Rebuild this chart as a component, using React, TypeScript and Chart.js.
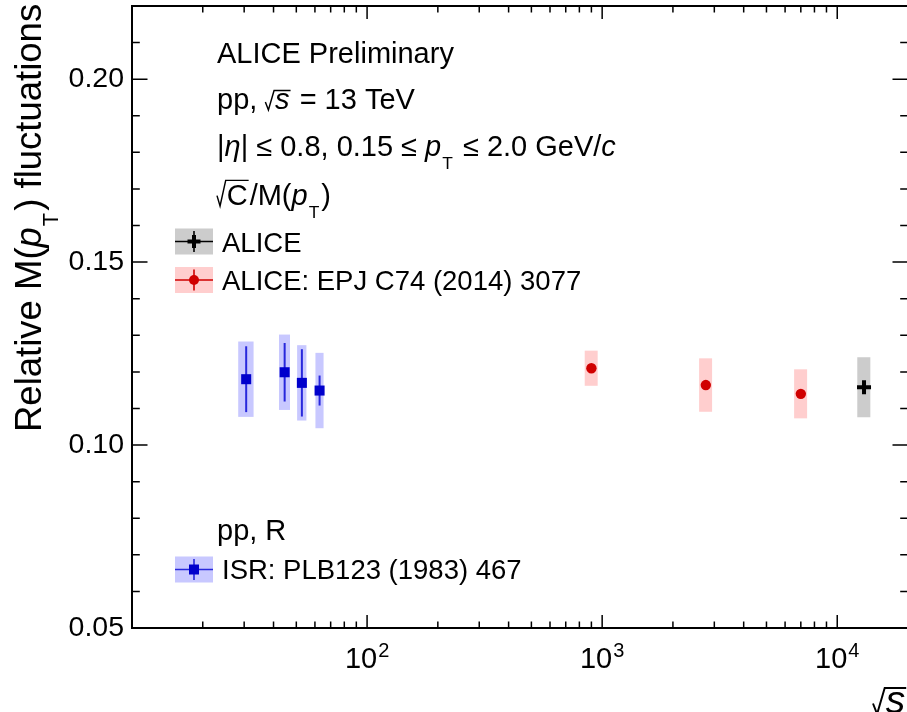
import React, { useEffect, useRef } from 'react';
import { Chart, registerables } from 'chart.js';
Chart.register(...registerables);

// ---- data ----
const isrEnergy = [30.6, 44.6, 52.8, 62.8];
const isrValue = [0.1180, 0.1199, 0.1170, 0.1149];
const isrStat = [0.0090, 0.0080, 0.0092, 0.0041];
const isrSys = [0.0103, 0.0103, 0.0103, 0.0103];
const isrXHalf = [2.3, 2.4, 2.4, 2.5];

const alice2014Energy = [900, 2760, 7000];
const alice2014Value = [0.1210, 0.1164, 0.1140];
const alice2014Stat = [0.0004, 0.0004, 0.0004];
const alice2014Sys = [0.0048, 0.0073, 0.0067];
const alice2014XHalf = [57, 175, 445];

const alice13Energy = [13000];
const alice13Value = [0.1158];
const alice13Stat = [0.0008];
const alice13Sys = [0.0082];
const alice13XHalf = [830];

const xMin = 10;
const xMax = 20000;
const yMin = 0.05;
const yMax = 0.22;
const xMajorTicks = [100, 1000, 10000];
const xMajorExp = ['2', '3', '4'];
const xMinorTicks = [20, 30, 40, 50, 60, 70, 80, 90, 200, 300, 400, 500, 600, 700, 800, 900, 2000, 3000, 4000, 5000, 6000, 7000, 8000, 9000];
const yMajorTicks = [0.05, 0.10, 0.15, 0.20];
const yMinorTicks = [0.06, 0.07, 0.08, 0.09, 0.11, 0.12, 0.13, 0.14, 0.16, 0.17, 0.18, 0.19, 0.21];

// ---- style ----
const FONT = '"Liberation Sans", Arial, Helvetica, sans-serif';
const CANVAS_W = 1000;
const CANVAS_H = 712;
const BLUE = 'rgb(0,0,204)';
const BLUE_LINE = 'rgb(40,40,220)';
const BLUE_BOX = 'rgb(200,200,255)';
const RED = 'rgb(208,0,0)';
const RED_BOX = 'rgb(255,206,206)';
const GRAY_BOX = 'rgb(204,204,204)';

type Run = { t: string; it?: boolean; sub?: boolean; rad?: 'low' | 'cap' };

function fontOf(size: number, it?: boolean) {
  return `${it ? 'italic ' : ''}${size}px ${FONT}`;
}

function drawRuns(ctx: CanvasRenderingContext2D, runs: Run[], x: number, y: number, fs: number) {
  let cx = x;
  ctx.textBaseline = 'alphabetic';
  ctx.textAlign = 'left';
  ctx.fillStyle = '#000';
  ctx.strokeStyle = '#000';
  for (const r of runs) {
    if (r.rad) {
      ctx.font = fontOf(fs, r.it);
      const w = ctx.measureText(r.t).width;
      const h = r.rad === 'cap' ? fs * 0.85 : fs * 0.64;
      const rw = fs * 0.3;
      ctx.beginPath();
      ctx.lineWidth = Math.max(1.3, fs * 0.05);
      ctx.moveTo(cx, y - h * 0.38);
      ctx.lineTo(cx + rw * 0.35, y + 1);
      ctx.lineTo(cx + rw, y - h);
      ctx.lineTo(cx + rw + w + 2, y - h);
      ctx.stroke();
      ctx.fillText(r.t, cx + rw + 1, y);
      cx += rw + w + 3;
    } else if (r.sub) {
      const s = fs * 0.6;
      ctx.font = fontOf(s, r.it);
      const w = ctx.measureText(r.t).width;
      ctx.fillText(r.t, cx + 1, y + fs * 0.46);
      cx += w + 3;
    } else {
      ctx.font = fontOf(fs, r.it);
      const w = ctx.measureText(r.t).width;
      ctx.fillText(r.t, cx, y);
      cx += w;
    }
  }
  return cx;
}

function drawSeriesErrors(
  ctx: CanvasRenderingContext2D, xs: any, ys: any,
  ex: number[], ey: number[], xh: number[], sys: number[], stat: number[],
  boxColor: string, lineColor: string, lineW: number
) {
  for (let i = 0; i < ex.length; i++) {
    const x0 = xs.getPixelForValue(ex[i] - xh[i]);
    const x1 = xs.getPixelForValue(ex[i] + xh[i]);
    const yt = ys.getPixelForValue(ey[i] + sys[i]);
    const yb = ys.getPixelForValue(ey[i] - sys[i]);
    ctx.fillStyle = boxColor;
    ctx.fillRect(x0, yt, x1 - x0, yb - yt);
  }
  for (let i = 0; i < ex.length; i++) {
    const xc = xs.getPixelForValue(ex[i]);
    const yt = ys.getPixelForValue(ey[i] + stat[i]);
    const yb = ys.getPixelForValue(ey[i] - stat[i]);
    ctx.strokeStyle = lineColor;
    ctx.lineWidth = lineW;
    ctx.beginPath();
    ctx.moveTo(xc, yt);
    ctx.lineTo(xc, yb);
    ctx.stroke();
  }
}

function legendEntry(ctx: CanvasRenderingContext2D, cy: number, box: string, line: string, kind: string) {
  const x0 = 175, x1 = 213, xc = 194;
  ctx.fillStyle = box;
  ctx.fillRect(x0, cy - 13, x1 - x0, 26);
  ctx.strokeStyle = line;
  ctx.lineWidth = 1.6;
  ctx.beginPath();
  ctx.moveTo(x0, cy);
  ctx.lineTo(x1, cy);
  ctx.moveTo(xc, cy - 10.5);
  ctx.lineTo(xc, cy + 10.5);
  ctx.stroke();
  if (kind === 'rect') {
    ctx.fillStyle = BLUE;
    ctx.fillRect(xc - 5, cy - 5, 10, 10);
  } else if (kind === 'circle') {
    ctx.fillStyle = RED;
    ctx.beginPath();
    ctx.arc(xc, cy, 5, 0, Math.PI * 2);
    ctx.fill();
  } else {
    ctx.strokeStyle = '#000';
    ctx.lineWidth = 4;
    ctx.beginPath();
    ctx.moveTo(xc - 6.5, cy);
    ctx.lineTo(xc + 6.5, cy);
    ctx.moveTo(xc, cy - 6.5);
    ctx.lineTo(xc, cy + 6.5);
    ctx.stroke();
  }
}

const rootPlugin = {
  id: 'rootStyle',
  beforeDatasetsDraw(chart: any) {
    const { ctx, scales } = chart;
    const xs = scales.x, ys = scales.y;
    ctx.save();
    drawSeriesErrors(ctx, xs, ys, isrEnergy, isrValue, isrXHalf, isrSys, isrStat, BLUE_BOX, BLUE_LINE, 2);
    drawSeriesErrors(ctx, xs, ys, alice2014Energy, alice2014Value, alice2014XHalf, alice2014Sys, alice2014Stat, RED_BOX, RED, 2);
    drawSeriesErrors(ctx, xs, ys, alice13Energy, alice13Value, alice13XHalf, alice13Sys, alice13Stat, GRAY_BOX, '#000', 2);
    ctx.restore();
  },
  afterDraw(chart: any) {
    const { ctx, chartArea: a, scales } = chart;
    const xs = scales.x, ys = scales.y;
    ctx.save();
    // frame
    ctx.strokeStyle = '#000';
    ctx.lineWidth = 2;
    ctx.strokeRect(a.left, a.top, a.right - a.left, a.bottom - a.top);
    // ticks
    ctx.lineWidth = 1.5;
    ctx.beginPath();
    const xt = (v: number, len: number) => {
      const p = xs.getPixelForValue(v);
      ctx.moveTo(p, a.bottom); ctx.lineTo(p, a.bottom - len);
      ctx.moveTo(p, a.top); ctx.lineTo(p, a.top + len);
    };
    const yt = (v: number, len: number) => {
      const p = ys.getPixelForValue(v);
      ctx.moveTo(a.left, p); ctx.lineTo(a.left + len, p);
      ctx.moveTo(a.right, p); ctx.lineTo(a.right - len, p);
    };
    xMajorTicks.forEach(v => xt(v, 13));
    xMinorTicks.forEach(v => xt(v, 6.5));
    yMajorTicks.forEach(v => yt(v, 15.5));
    yMinorTicks.forEach(v => yt(v, 7.8));
    ctx.stroke();
    // x tick labels 10^n
    ctx.fillStyle = '#000';
    ctx.textBaseline = 'alphabetic';
    ctx.textAlign = 'left';
    xMajorTicks.forEach((v, i) => {
      const p = xs.getPixelForValue(v);
      ctx.font = fontOf(29, false);
      const w1 = ctx.measureText('10').width;
      ctx.font = fontOf(20, false);
      const w2 = ctx.measureText(xMajorExp[i]).width;
      const start = p - (w1 + w2 + 1) / 2;
      ctx.font = fontOf(29, false);
      ctx.fillText('10', start, 668);
      ctx.font = fontOf(20, false);
      ctx.fillText(xMajorExp[i], start + w1 + 1, 657);
    });
    // axis titles
    drawRuns(ctx, [{ t: 's', it: true, rad: 'low' }, { t: ' (GeV)' }], 873, 713, 39);
    ctx.save();
    ctx.translate(41, 432);
    ctx.rotate(-Math.PI / 2);
    drawRuns(ctx, [{ t: 'Relative M(' }, { t: 'p', it: true }, { t: 'T', sub: true }, { t: ') fluctuations' }], 0, 0, 36.5);
    ctx.restore();
    // header text
    const fs = 29;
    const lfs = 27.5;
    drawRuns(ctx, [{ t: 'ALICE Preliminary' }], 217, 63, fs);
    drawRuns(ctx, [{ t: 'pp, ' }, { t: 's', it: true, rad: 'low' }, { t: ' = 13 TeV' }], 217, 109, fs);
    drawRuns(ctx, [{ t: '|' }, { t: 'η', it: true }, { t: '| ≤ 0.8, 0.15 ≤ ' }, { t: 'p', it: true }, { t: 'T', sub: true }, { t: ' ≤ 2.0 GeV/' }, { t: 'c', it: true }], 217, 156, fs);
    drawRuns(ctx, [{ t: 'C', rad: 'cap' }, { t: '/M(' }, { t: 'p', it: true }, { t: 'T', sub: true }, { t: ')' }], 217, 205, fs);
    // legends
    legendEntry(ctx, 241.5, GRAY_BOX, '#000', 'cross');
    drawRuns(ctx, [{ t: 'ALICE' }], 222, 252, lfs);
    legendEntry(ctx, 280, RED_BOX, RED, 'circle');
    drawRuns(ctx, [{ t: 'ALICE: EPJ C74 (2014) 3077' }], 222, 290, lfs);
    drawRuns(ctx, [{ t: 'pp, R' }], 217, 540, fs);
    legendEntry(ctx, 569.5, BLUE_BOX, BLUE_LINE, 'rect');
    drawRuns(ctx, [{ t: 'ISR: PLB123 (1983) 467' }], 222, 579, lfs);
    ctx.restore();
  },
};

export default function App() {
  const ref = useRef<HTMLCanvasElement | null>(null);
  useEffect(() => {
    const canvas = ref.current;
    if (!canvas) return;
    const chart = new Chart(canvas, {
      type: 'scatter',
      data: {
        datasets: [
          {
            label: 'ISR: PLB123 (1983) 467',
            data: isrEnergy.map((x, i) => ({ x, y: isrValue[i] })),
            pointStyle: 'rect',
            pointRadius: 7.1,
            backgroundColor: BLUE,
            borderColor: BLUE,
            borderWidth: 0,
          },
          {
            label: 'ALICE: EPJ C74 (2014) 3077',
            data: alice2014Energy.map((x, i) => ({ x, y: alice2014Value[i] })),
            pointStyle: 'circle',
            pointRadius: 5.2,
            backgroundColor: RED,
            borderColor: RED,
            borderWidth: 0,
          },
          {
            label: 'ALICE',
            data: alice13Energy.map((x, i) => ({ x, y: alice13Value[i] })),
            pointStyle: 'cross',
            pointRadius: 7,
            backgroundColor: '#000',
            borderColor: '#000',
            borderWidth: 4,
          },
        ],
      },
      options: {
        responsive: false,
        animation: false,
        devicePixelRatio: 1,
        layout: { autoPadding: false, padding: { left: 0, top: 6, right: CANVAS_W - 908, bottom: 0 } },
        plugins: { legend: { display: false }, tooltip: { enabled: false } },
        scales: {
          x: {
            type: 'logarithmic',
            min: xMin,
            max: xMax,
            grid: { display: false },
            border: { display: false },
            ticks: { display: false },
            afterFit: (s: any) => { s.height = 84; s.paddingLeft = 0; s.paddingRight = 0; },
          },
          y: {
            type: 'linear',
            min: yMin,
            max: yMax,
            grid: { display: false },
            border: { display: false },
            ticks: {
              color: '#000',
              padding: 0,
              font: { family: FONT, size: 28.5 },
              callback: (v: any) => Number(v).toFixed(2),
            },
            afterBuildTicks: (s: any) => { s.ticks = yMajorTicks.map(v => ({ value: v })); },
            afterFit: (s: any) => { s.width = 132; s.paddingTop = 0; s.paddingBottom = 0; },
          },
        },
      } as any,
      plugins: [rootPlugin],
    });
    return () => chart.destroy();
  }, []);
  return (
    <div style={{ position: 'fixed', left: 0, top: 0, width: 907, height: 712, overflow: 'hidden', background: '#fff' }}>
      <canvas ref={ref} width={CANVAS_W} height={CANVAS_H} style={{ display: 'block', width: CANVAS_W, height: CANVAS_H }} />
    </div>
  );
}
